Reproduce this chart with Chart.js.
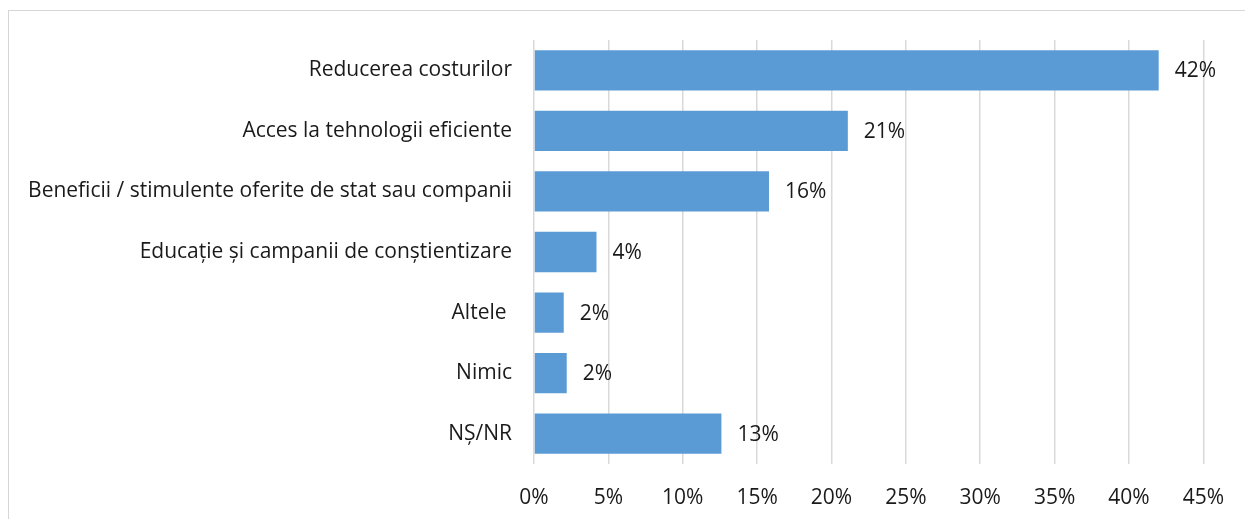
<!DOCTYPE html>
<html>
<head>
<meta charset="utf-8">
<script src="https://cdn.jsdelivr.net/npm/chart.js@4.4.1/dist/chart.umd.min.js"></script>
<style>
    html, body { margin: 0; padding: 0; background: #fff; overflow: hidden; }
    #wrap { position: relative; width: 1245px; height: 519px; }
    #frame {
        position: absolute; left: 8px; top: 10px;
        width: 1400px; height: 700px;
        border: 1px solid #d6d6d6;
    }
    #chart { position: absolute; left: 0; top: 0; }
</style>
</head>
<body>
<div id="wrap">
    <div id="frame"></div>
    <canvas id="chart" width="1245" height="519"></canvas>
</div>
<script>
// ── Data ───────────────────────────────────────────────
const categories = [
    'Reducerea costurilor',
    'Acces la tehnologii eficiente',
    'Beneficii / stimulente oferite de stat sau companii',
    'Educație și campanii de conștientizare',
    'Altele ',
    'Nimic',
    'NȘ/NR',
];
const values     = [42.0, 21.1, 15.8, 4.2, 2.0, 2.2, 12.6];
const valueLabels = ['42%', '21%', '16%', '4%', '2%', '2%', '13%'];
const tickValues = [0, 5, 10, 15, 20, 25, 30, 35, 40, 45];

const FONT = '"Open Sans", Lato, sans-serif';
const FONT_SIZE = 21;

// ── Etichete valori la capătul barelor ─────────────────
const valueLabelPlugin = {
    id: 'valueLabels',
    afterDatasetsDraw(chart) {
        const { ctx } = chart;
        const meta = chart.getDatasetMeta(0);
        ctx.save();
        ctx.font = `${FONT_SIZE}px ${FONT}`;
        ctx.fillStyle = '#1a1a1a';
        ctx.textAlign = 'left';
        ctx.textBaseline = 'middle';
        meta.data.forEach((bar, i) => {
            ctx.fillText(valueLabels[i], bar.x + 16, bar.y + 1);
        });
        ctx.restore();
    },
};

new Chart(document.getElementById('chart').getContext('2d'), {
    type: 'bar',
    data: {
        labels: categories,
        datasets: [{
            data:            values,
            backgroundColor: '#5b9bd5',
            borderWidth:     0,
            categoryPercentage: 1,
            barPercentage:   0.665,
        }],
    },
    options: {
        indexAxis:  'y',
        responsive: false,
        animation:  false,
        layout: { padding: { top: 40, right: 39, left: 0, bottom: 0 } },
        plugins: {
            legend:  { display: false },
            tooltip: { enabled: false },
        },
        scales: {
            x: {
                min: 0,
                max: 45,
                afterBuildTicks: s => { s.ticks = tickValues.map(v => ({ value: v })); },
                afterFit: s => { s.height = 55; },
                ticks: {
                    callback: v => v + '%',
                    color:    '#1a1a1a',
                    padding:  21,
                    font:     { family: FONT, size: FONT_SIZE },
                },
                grid:   { color: '#d9d9d9', lineWidth: 1.5, drawTicks: false },
                border: { display: false },
            },
            y: {
                afterFit: s => { s.width = 534; },
                ticks: {
                    color:   '#1a1a1a',
                    padding: 22,
                    font:    { family: FONT, size: FONT_SIZE },
                },
                grid:   { display: false, drawTicks: false },
                border: { display: false },
            },
        },
    },
    plugins: [valueLabelPlugin],
});
</script>
</body>
</html>
